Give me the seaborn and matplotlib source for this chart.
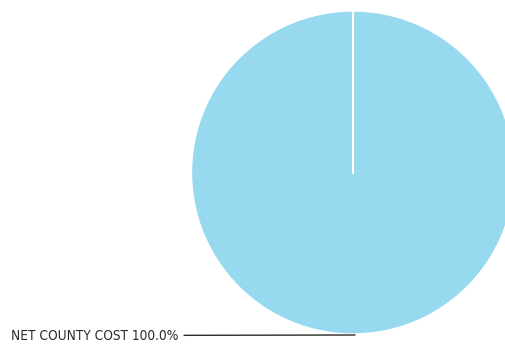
import numpy as np
import seaborn as sns
import matplotlib
matplotlib.use("Agg")
import matplotlib.pyplot as plt

categories = ["NET COUNTY COST"]
values = [100.0]
colors = ["#97d9ef"]

sns.set_theme(style="white")
plt.rcParams["font.family"] = ["DejaVu Sans"]

fig = plt.figure(figsize=(5.05, 3.45), dpi=100)
ax = fig.add_axes([0, 0, 1, 1])

cx, cy, r = 353, 172.5, 161.5
wedges, _ = ax.pie(values, colors=colors, startangle=90, counterclock=False,
                   center=(cx, cy), radius=r, frame=True)
ax.set_xlim(0, 505)
ax.set_ylim(0, 345)
ax.set_aspect("equal")
ax.axis("off")

# white separator at the start angle
ax.plot([cx, cx], [cy, cy + r], color="white", lw=1.5, zorder=5)

total = sum(values)
for cat, val in zip(categories, values):
    ax.annotate(f"{cat} {val / total * 100:.1f}%", xy=(cx + 2, cy - r - 1), xytext=(178, cy - r - 1.5),
                ha="right", va="center", fontsize=9.8, fontstretch="condensed",
                color="#2b2b2b",
                arrowprops=dict(arrowstyle="-", color="#2b2b2b", lw=1,
                                shrinkA=-2, shrinkB=0))

fig.savefig("out.png", dpi=100)
